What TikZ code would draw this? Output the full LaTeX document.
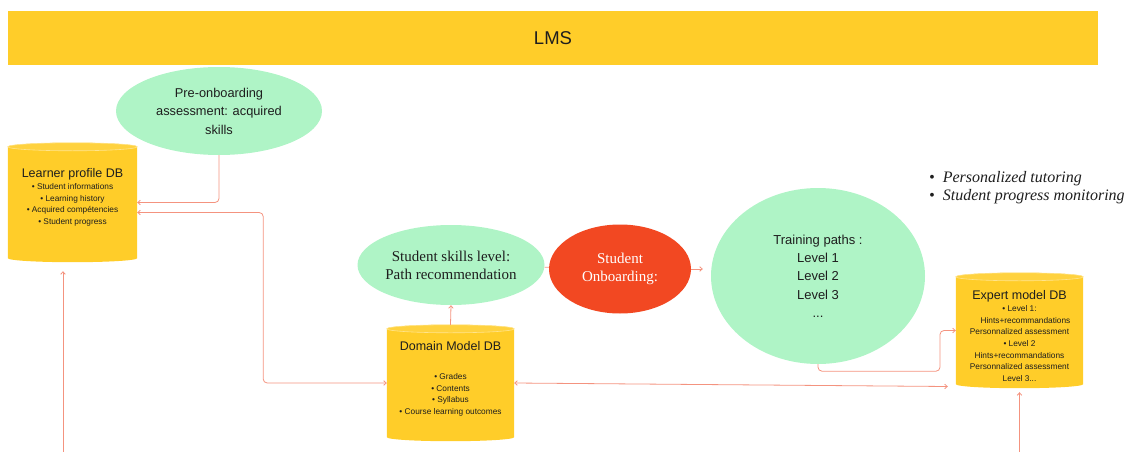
\documentclass[tikz,border=0pt]{standalone}
\usepackage{fontspec}
\setmainfont{Liberation Sans}
\newfontfamily\skillserif{Liberation Serif}
\usepackage{xcolor}
\usepackage{tikz}
\usetikzlibrary{arrows.meta,positioning,shapes.geometric,calc}

\definecolor{lmsyellow}{HTML}{FFCD29}
\definecolor{capyellow}{HTML}{FFD23F}
\definecolor{rimyellow}{HTML}{FFE48C}
\definecolor{mint}{HTML}{AFF4C6}
\definecolor{onbred}{HTML}{F24822}
\definecolor{linkred}{HTML}{F4937F}
\definecolor{ink}{HTML}{1E1E1E}

% yellow drum behind a database node
\newcommand\drawdb[1]{%
  \fill[lmsyellow] let \p1=(#1.north west), \p2=(#1.south east), \n1={(\x2-\x1)/2} in
    ([yshift=-4pt]#1.north west) -- ([yshift=4pt]#1.south west)
    arc[start angle=180, end angle=360, x radius=\n1, y radius=4pt]
    -- ([yshift=-4pt]#1.north east)
    arc[start angle=0, end angle=180, x radius=\n1, y radius=4pt] -- cycle;
  \draw[rimyellow, fill=capyellow, line width=0.6pt] let \p1=(#1.north west), \p2=(#1.south east), \n1={(\x2-\x1)/2} in
    ([yshift=-4pt]#1.north) ellipse [x radius=\n1, y radius=4pt];
}

\begin{document}
\begin{tikzpicture}[
  x=1pt, y=-1pt,
  every node/.style={text=ink, inner sep=0pt},
  bubble/.style={ellipse, fill=mint, align=center, font=\fontsize{12.8}{18.5}\selectfont},
  serifbubble/.style={ellipse, align=center, font=\skillserif\fontsize{15}{18}\selectfont},
  dbase/.style={rectangle},
  dbhead/.style={font=\fontsize{12.5}{14}\selectfont},
  dbitems/.style={align=center, font=\fontsize{8.3}{11.6}\selectfont},
  link/.style={draw=linkred, line width=0.8pt, rounded corners=4pt, -{Straight Barb[length=2.5pt,width=4.5pt]}},
]
\useasboundingbox (0,0) rectangle (1129,452);

% top banner
\node[fill=lmsyellow, minimum width=1090, minimum height=54, font=\fontsize{18.5}{20}\selectfont] (lms) at (553,38) {LMS};

% ellipses
\node[bubble, minimum width=206, minimum height=88] (pre) at (219,111) {Pre-onboarding\\assessment: acquired\\skills};
\node[serifbubble, fill=mint, minimum width=187, minimum height=80] (sk) at (451,265) {Student skills level:\\Path recommendation};
\node[serifbubble, fill=onbred, text=white, minimum width=142, minimum height=89] (onb) at (620,269) {Student\\Onboarding:};
\node[bubble, font=\fontsize{13}{18.3}\selectfont, minimum width=214, minimum height=176] (tr) at (818,276) {Training paths :\\Level 1\\Level 2\\Level 3\\...};

% databases
\node[dbase, minimum width=129, minimum height=119] (lp) at (72.5,202.5) {};
\drawdb{lp}
\node[dbhead] (lphead) at (72.5,174) {Learner profile DB};
\node[dbitems] (lpitems) at (72.5,205) {\textbullet~Student informations\\\textbullet~Learning history\\\textbullet~Acquired compétencies\\\textbullet~Student progress};

\node[dbase, minimum width=127, minimum height=116] (dom) at (450.5,383) {};
\drawdb{dom}
\node[dbhead] (domhead) at (450.5,346) {Domain Model DB};
\node[dbitems] (domitems) at (450.5,395) {\textbullet~Grades\\\textbullet~Contents\\\textbullet~Syllabus\\\textbullet~Course learning outcomes};

\node[dbase, minimum width=127, minimum height=115] (exp) at (1019.5,330.5) {};
\drawdb{exp}
\node[dbhead] (exphead) at (1019.5,296) {Expert model DB};
\node[dbitems] (expitems) at (1019.5,343.5) {\textbullet~Level 1:\\\hspace{12pt}Hints+recommandations\\Personnalized assessment\\\textbullet~Level 2\\Hints+recommandations\\Personnalized assessment\\Level 3...};

% side notes
\node[anchor=west, align=left, font=\skillserif\itshape\fontsize{16}{18}\selectfont] (notes) at (929,188) {\textbullet\ \ Personalized tutoring\\\textbullet\ \ Student progress monitoring};

% connectors
\coordinate (lpfoot) at (63,452);
\coordinate (expfoot) at (1019.5,452);
\draw[link] (pre.south) |- (lp.east);
\draw[link, {Straight Barb[length=2.5pt,width=4.5pt]}-{Straight Barb[length=2.5pt,width=4.5pt]}] ([yshift=-10pt]lp.east) -- ++(126,0) |- (dom.west);
\draw[link, {Straight Barb[length=2.5pt,width=4.5pt]}-{Straight Barb[length=2.5pt,width=4.5pt]}] (dom.east) -- ([xshift=-8pt,yshift=-56pt]exp.west);
\draw[link] (dom.north) -- (sk.south);
\draw[link, -] (sk) -- (onb);
\draw[link, shorten >=8pt] (onb.east) -- (onb.east -| tr.west);
\draw[link] (tr.south) |- ++(122,7) |- (exp.west);
\draw[link, shorten >=9pt] (lpfoot) -- (lpfoot |- lp.south);
\draw[link, shorten >=4pt] (expfoot) -- (exp.south);
\end{tikzpicture}
\end{document}
